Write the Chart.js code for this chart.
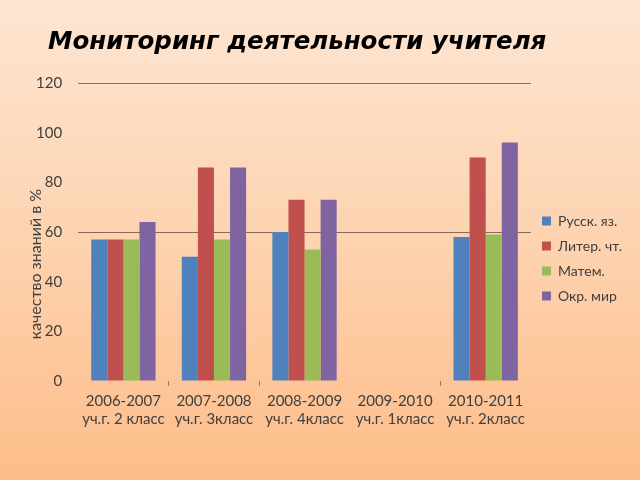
<!DOCTYPE html>
<html>
<head>
<meta charset="utf-8">
<script src="https://cdn.jsdelivr.net/npm/chart.js@4/dist/chart.umd.min.js"></script>
<style>
  html, body { margin: 0; padding: 0; }
  body {
    width: 640px; height: 480px; overflow: hidden;
    background: linear-gradient(to bottom, #fde5d2 0%, #fdd3b0 50%, #fdbd8a 100%);
  }
  #wrap { position: relative; width: 640px; height: 480px; }
</style>
</head>
<body>
<div id="wrap"><canvas id="chart" width="640" height="480"></canvas></div>
<script>
const years = [
  ['2006-2007', 'уч.г. 2 класс'],
  ['2007-2008', 'уч.г. 3класс'],
  ['2008-2009', 'уч.г. 4класс'],
  ['2009-2010', 'уч.г. 1класс'],
  ['2010-2011', 'уч.г. 2класс']
];
const russian = [57, 50, 60, null, 58];
const reading = [57, 86, 73, null, 90];
const maths = [57, 57, 53, null, 59];
const world = [64, 86, 73, null, 96];
const seriesNames = ['Русск. яз.', 'Литер. чт.', 'Матем.', 'Окр. мир'];
const seriesColors = ['#4f81bd', '#c0504d', '#9bbb59', '#8064a2'];
const yTicks = [0, 20, 40, 60, 80, 100, 120];
const chartTitle = 'Мониторинг деятельности учителя';
const yTitle = 'качество знаний в %';

const font = "Lato, 'Open Sans', sans-serif";
const values = [russian, reading, maths, world];

// title and y-axis caption sit off-centre in the original slide, so draw them by hand
const captions = {
  id: 'captions',
  afterDraw(chart) {
    const ctx = chart.ctx;
    ctx.save();
    ctx.fillStyle = '#000';
    ctx.font = "italic bold 24.5px 'DejaVu Sans', sans-serif";
    ctx.textBaseline = 'alphabetic';
    ctx.textAlign = 'left';
    ctx.fillText(chartTitle, 48, 49);
    ctx.translate(36, 264);
    ctx.rotate(-Math.PI / 2);
    ctx.fillStyle = '#404040';
    ctx.font = "16px " + font;
    ctx.textAlign = 'center';
    ctx.textBaseline = 'middle';
    ctx.fillText(yTitle, 0, 0);
    ctx.restore();
  }
};

new Chart(document.getElementById('chart'), {
  type: 'bar',
  data: {
    labels: years,
    datasets: values.map((v, i) => ({
      label: seriesNames[i],
      data: v,
      backgroundColor: seriesColors[i],
      borderWidth: 0,
      barPercentage: 1,
      categoryPercentage: 0.71
    }))
  },
  options: {
    responsive: false,
    animation: false,
    layout: { padding: { left: 20, right: 8, top: 83, bottom: 46 } },
    plugins: {
      legend: {
        position: 'right',
        labels: {
          color: '#404040',
          font: { family: font, size: 14 },
          boxWidth: 9,
          boxHeight: 9,
          padding: 11
        }
      },
      tooltip: { enabled: false }
    },
    scales: {
      x: {
        grid: {
          offset: true,
          drawOnChartArea: false,
          color: (c) => [1, 2, 4].includes(c.index) ? '#8a7f78' : 'transparent',
          tickLength: 5
        },
        border: { display: false },
        ticks: {
          color: '#404040',
          font: { family: font, size: 15, lineHeight: 1.2 },
          padding: 6,
          maxRotation: 0,
          minRotation: 0,
          autoSkip: false
        }
      },
      y: {
        min: 0,
        max: 120,
        afterBuildTicks: (axis) => { axis.ticks = yTicks.map(v => ({ value: v })); },
        grid: {
          drawTicks: false,
          color: (c) => (c.tick && (c.tick.value === 60 || c.tick.value === 120)) ? '#8a6a5a' : 'transparent'
        },
        border: { display: false },
        ticks: { color: '#404040', font: { family: font, size: 15 }, padding: 16 }
      }
    }
  },
  plugins: [captions]
});
</script>
</body>
</html>
